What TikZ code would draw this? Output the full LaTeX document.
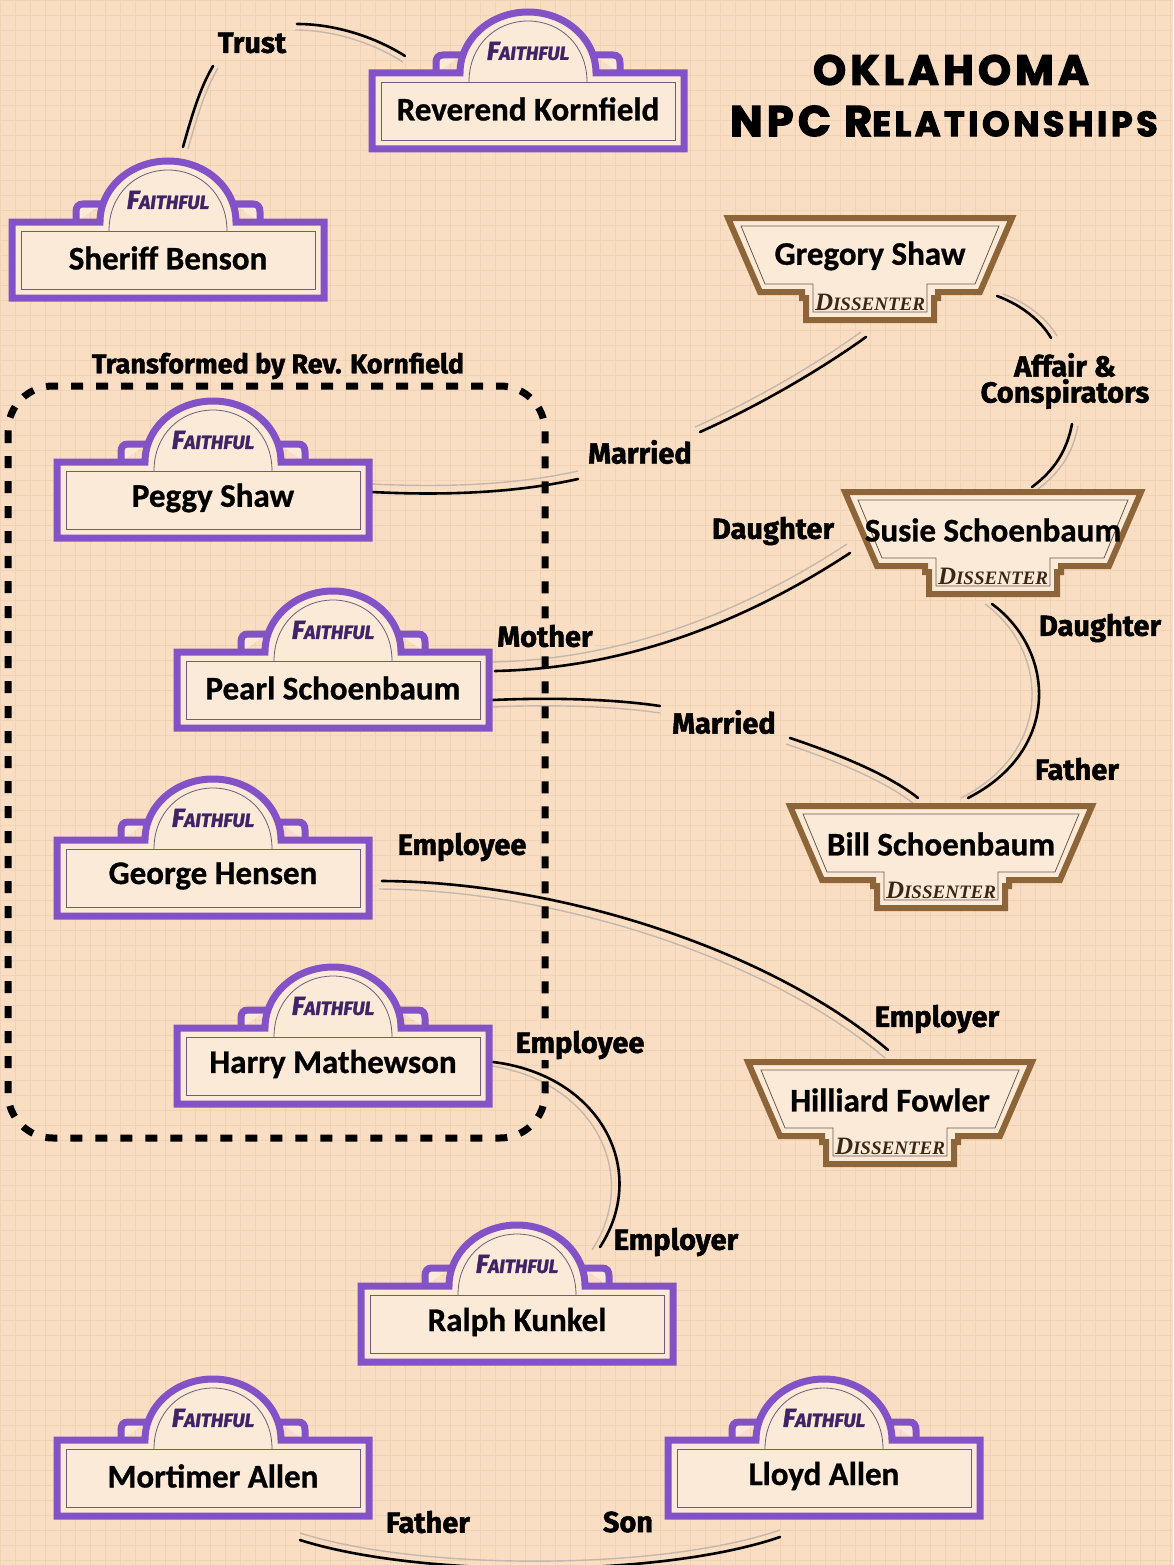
\documentclass[tikz,border=0pt]{standalone}
\usepackage{fontspec}
\setmainfont{Carlito}[BoldFeatures={FakeBold=0.8}]
\newfontfamily\labfont[FakeBold=1.6]{Fira Sans}
\newfontfamily\titfont[FakeBold=3,LetterSpace=10]{Poppins}
\newfontfamily\disfont{Liberation Serif}
\definecolor{bgc}{HTML}{F9DEC4}
\definecolor{gridc}{HTML}{F2D2B4}
\definecolor{bodyfill}{HTML}{FBEAD8}
\definecolor{fpurple}{HTML}{8352C6}
\definecolor{fdark}{HTML}{3E2466}
\definecolor{bbrown}{HTML}{8D6539}
\definecolor{ddark}{HTML}{3A2614}
\definecolor{innerc}{HTML}{6E5C7A}
\definecolor{innerb}{HTML}{6B5A48}
\definecolor{shadc}{HTML}{C4B8AC}
\tikzset{
  nametext/.style={font=\bfseries\fontsize{33}{35}\selectfont, text=black, inner sep=0pt},
  reltext/.style={font=\labfont\bfseries\fontsize{29}{31}\selectfont, text=black, inner sep=1pt},
  rel/.style={draw=black, line width=2.6pt, line cap=round},
  sh/.style 2 args={preaction={draw=shadc, line width=1.4pt, transform canvas={shift={(#1,#2)}}}},
  fout/.style={draw=fpurple, line width=7pt},
  bout/.style={draw=bbrown, line width=6pt},
}
\newcommand\faithbadge[4]{%
  \begin{scope}[shift={(#2,#3)}]
    \draw[fout, fill=bodyfill] (-92,-38) -- (-92,-48) .. controls (-92,-53) and (-90,-56) .. (-85,-56) -- (-66,-56);
    \draw[fout, fill=bodyfill] (92,-38) -- (92,-48) .. controls (92,-53) and (90,-56) .. (85,-56) -- (66,-56);
    \fill[bodyfill] (-156,38) -- (-156,-38) -- (-68,-38) .. controls (-68,-72) and (-37.5,-99) .. (0,-99) .. controls (37.5,-99) and (68,-72) .. (68,-38) -- (156,-38) -- (156,38) -- cycle;
    \draw[innerc, line width=0.8pt] (-147,-29) rectangle (147,29);
    \draw[innerc, line width=0.8pt] (-59,-29) .. controls (-59,-66) and (-32,-90) .. (0,-90) .. controls (32,-90) and (59,-66) .. (59,-29);
    \draw[fout] (-156,38) -- (-156,-38) -- (-68,-38) .. controls (-68,-72) and (-37.5,-99) .. (0,-99) .. controls (37.5,-99) and (68,-72) .. (68,-38) -- (156,-38) -- (156,38) -- cycle;
    \node[font=\labfont\bfseries\itshape, text=fdark, inner sep=0pt] at (0,-60) {{\fontsize{26}{28}\selectfont F}{\fontsize{19}{21}\selectfont AITHFUL}};
  \end{scope}
  \node[nametext] (#1) at (#2,#3-2) {#4};
}
% name, cx, top, half width, text
\newcommand\dissbadge[5]{%
  \begin{scope}[shift={(#2,#3)}]
    \draw[bout, fill=bodyfill] (-#4,0) -- (#4,0) -- (#4-32,74) -- (68,74) -- (68,80) -- (64,80) -- (64,102) -- (-64,102) -- (-64,80) -- (-68,80) -- (-68,74) -- (-#4+32,74) -- cycle;
    \draw[innerb, line width=0.8pt] (-#4+13,8) -- (#4-13,8) -- (#4-37,66) -- (57,66) -- (57,94) -- (-57,94) -- (-57,66) -- (-#4+37,66) -- cycle;
    \node[font=\disfont\bfseries\itshape, text=ddark, inner sep=0pt] at (0,84) {{\fontsize{25}{27}\selectfont D}{\fontsize{19}{21}\selectfont ISSENTER}};
  \end{scope}
  \node[nametext] (#1) at (#2,#3+38) {#5};
}
\begin{document}
\begin{tikzpicture}[x=1pt,y=-1pt]
\useasboundingbox (0,0) rectangle (1173,1565);
\fill[bgc] (0,0) rectangle (1173,1565);
\foreach \g in {0,15,...,1170} {\draw[gridc, line width=0.5pt] (\g,0) -- (\g,1565);}
\foreach \g in {0,15,...,1560} {\draw[gridc, line width=0.5pt] (0,\g) -- (1173,\g);}

% title
\node[font=\titfont\bfseries\fontsize{42}{44}\selectfont, inner sep=0pt] (title1) at (951,70) {OKLAHOMA};
\node[font=\titfont\bfseries\fontsize{43}{45}\selectfont, inner sep=0pt, anchor=west] (title2) at (730,121) {NPC R{\fontsize{35}{37}\selectfont ELATIONSHIPS}};

% connector coordinates
\coordinate (c-ben) at (183,147); \coordinate (c-tr1) at (213,66);
\coordinate (c-tr2) at (297,24);  \coordinate (c-rev) at (405,56);
\coordinate (c-greg1) at (866,337); \coordinate (c-m1a) at (700,432);
\coordinate (c-m1b) at (578,479); \coordinate (c-peg) at (372,492);
\coordinate (c-greg2) at (997,296); \coordinate (c-af1) at (1051,338);
\coordinate (c-af2) at (1072,424); \coordinate (c-sus1) at (1032,487);
\coordinate (c-sus2) at (850,553); \coordinate (c-pea1) at (495,671);
\coordinate (c-sus3) at (992,604); \coordinate (c-bil1) at (968,798);
\coordinate (c-pea2) at (493,700); \coordinate (c-m2a) at (660,706);
\coordinate (c-m2b) at (790,738); \coordinate (c-bil2) at (918,798);
\coordinate (c-geo) at (382,881); \coordinate (c-hil) at (888,1050);
\coordinate (c-har) at (493,1062); \coordinate (c-ral) at (600,1247);
\coordinate (c-mor) at (300,1540); \coordinate (c-llo) at (780,1537);

% connectors
\draw[rel, sh={5}{2}] (c-ben) .. controls (192,115) and (200,88) .. (c-tr1);
\draw[rel, sh={-2}{6}] (c-tr2) .. controls (340,24) and (380,40) .. (c-rev);
\draw[rel, sh={-5}{-5}] (c-greg1) .. controls (820,370) and (760,405) .. (c-m1a);
\draw[rel, sh={0}{-8}] (c-m1b) .. controls (520,492) and (450,496) .. (c-peg);
\draw[rel, sh={6}{-2}] (c-greg2) .. controls (1022,305) and (1042,322) .. (c-af1);
\draw[rel, sh={6}{2}] (c-af2) .. controls (1067,450) and (1055,470) .. (c-sus1);
\draw[rel, sh={-3}{-9}] (c-sus2) .. controls (760,612) and (640,668) .. (c-pea1);
\draw[rel, sh={-7}{0}] (c-sus3) .. controls (1055,650) and (1062,750) .. (c-bil1);
\draw[rel, sh={0}{7}] (c-pea2) .. controls (560,697) and (620,700) .. (c-m2a);
\draw[rel, sh={-4}{6}] (c-m2b) .. controls (850,758) and (893,778) .. (c-bil2);
\draw[rel, sh={-3}{8}] (c-geo) .. controls (560,882) and (770,950) .. (c-hil);
\draw[rel, sh={-8}{3}] (c-har) .. controls (600,1075) and (650,1170) .. (c-ral);
\draw[rel, sh={0}{-7}] (c-mor) .. controls (420,1578) and (660,1578) .. (c-llo);

% badges
\faithbadge{rev}{528}{111}{Reverend Kornfield}
\faithbadge{ben}{168}{260}{Sheriff Benson}
\faithbadge{peggy}{213}{500}{Peggy Shaw}
\faithbadge{pearl}{333}{690}{Pearl Schoenbaum}
\faithbadge{george}{213}{878}{George Hensen}
\faithbadge{harry}{333}{1066}{Harry Mathewson}
\faithbadge{ralph}{517}{1324}{Ralph Kunkel}
\faithbadge{mort}{213}{1478}{Mortimer Allen}
\faithbadge{lloyd}{824}{1478}{Lloyd Allen}
\dissbadge{greg}{870}{218}{142}{Gregory Shaw}
\dissbadge{susie}{993}{492}{148}{Susie Schoenbaum}
\dissbadge{bill}{941}{806}{151}{Bill Schoenbaum}
\dissbadge{hill}{890}{1062}{142}{Hilliard Fowler}

% group box
\draw[black, line width=7pt, dash pattern=on 12pt off 13pt, rounded corners=45pt] (8,386) rectangle (545,1138);
\node[font=\labfont\bfseries\fontsize{27}{29}\selectfont, inner sep=0pt] (grp) at (278,366) {Transformed by Rev. Kornfield};

% labels
\node[reltext] (l-trust) at (252,43) {Trust};
\node[reltext] (l-mar1) at (640,452) {Married};
\node[reltext, align=center] (l-aff) at (1065,381) {Affair \&\\[-5pt]Conspirators};
\node[reltext] (l-dau1) at (773,531) {Daughter};
\node[reltext, fill=bgc] (l-mot) at (545,636) {Mother};
\node[reltext] (l-dau2) at (1100,628) {Daughter};
\node[reltext] (l-fat1) at (1077,769) {Father};
\node[reltext] (l-mar2) at (724,722) {Married};
\node[reltext] (l-emp1) at (462,847) {Employee};
\node[reltext] (l-emr1) at (937,1019) {Employer};
\node[reltext, fill=bgc] (l-emp2) at (580,1045) {Employee};
\node[reltext] (l-emr2) at (676,1242) {Employer};
\node[reltext] (l-fat2) at (428,1522) {Father};
\node[reltext] (l-son) at (628,1522) {Son};
\end{tikzpicture}
\end{document}
